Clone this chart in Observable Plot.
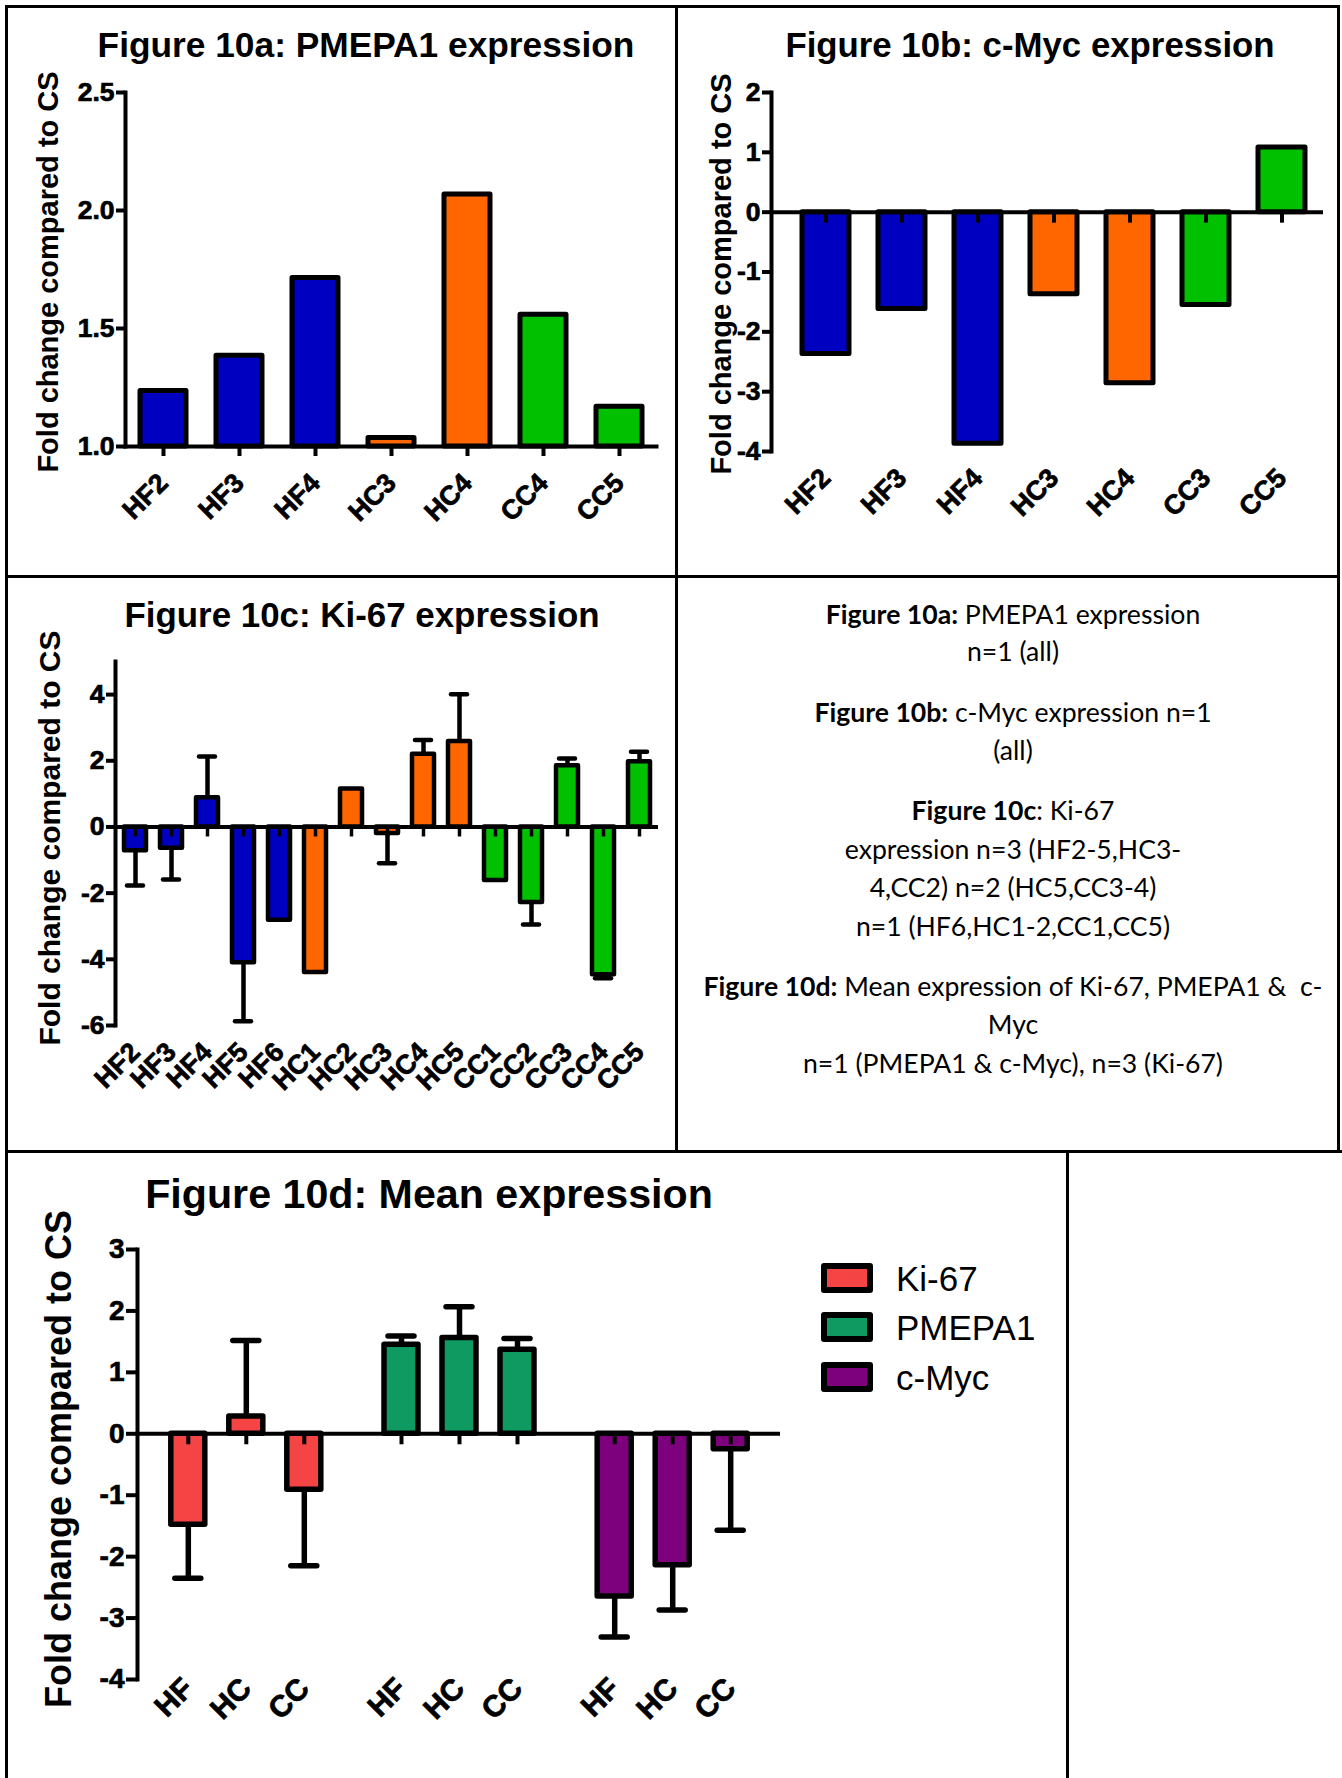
<!DOCTYPE html>
<html><head><meta charset="utf-8">
<script src="https://cdn.jsdelivr.net/npm/d3@7"></script>
<script src="https://cdn.jsdelivr.net/npm/@observablehq/plot@0.6"></script>
<style>
html,body{margin:0;padding:0;background:#fff;overflow:hidden}
#page{position:relative;width:1342px;height:1778px;background:#fff}
#page svg text{font-family:"Liberation Sans",Arial,sans-serif !important;font-weight:bold;stroke:#000;stroke-width:0.7px}
.ln{position:absolute;background:#000}
.title{position:absolute;transform:translate(-50%,-50%);font-family:"Liberation Sans",Arial,sans-serif;font-weight:bold;white-space:nowrap;color:#000;line-height:1}
.ylab{position:absolute;transform:translate(-50%,-50%) rotate(-90deg);font-family:"Liberation Sans",Arial,sans-serif;font-weight:bold;white-space:nowrap;color:#000;line-height:1}
.note{position:absolute;left:1013px;transform:translate(-50%,-50%);font-family:Lato,"Open Sans",sans-serif;font-size:26.6px;white-space:nowrap;color:#000;line-height:1}
.sw{position:absolute;left:821px;width:40px;height:18px;border:6px solid #000;border-radius:3px;transform:translateY(-50%)}
.lg{position:absolute;left:896px;transform:translateY(-50%);font-family:"Liberation Sans",Arial,sans-serif;font-size:35px;color:#000;line-height:1;white-space:nowrap}
</style>
</head><body><div id="page"></div>
<script>
// ---------- data ----------
const groupNames = ["HF", "HC", "CC"];
const groupColors = ["#0000C0", "#FF6600", "#00C000"];

// Figure 10a: PMEPA1
const pmepaSamples = ["HF2", "HF3", "HF4", "HC3", "HC4", "CC4", "CC5"];
const pmepaValues = [1.235, 1.385, 1.714, 1.036, 2.068, 1.558, 1.168];
const pmepaTicks = [1.0, 1.5, 2.0, 2.5];

// Figure 10b: c-Myc
const mycSamples = ["HF2", "HF3", "HF4", "HC3", "HC4", "CC3", "CC5"];
const mycValues = [-2.37, -1.62, -3.87, -1.37, -2.86, -1.55, 1.08];
const mycTicks = [-4, -3, -2, -1, 0, 1, 2];

// Figure 10c: Ki-67
const kiSamples = ["HF2","HF3","HF4","HF5","HF6","HC1","HC2","HC3","HC4","HC5","CC1","CC2","CC3","CC4","CC5"];
const kiValues = [-0.72, -0.64, 0.88, -4.10, -2.82, -4.40, 1.15, -0.20, 2.20, 2.58, -1.62, -2.28, 1.85, -4.47, 1.97];
const kiErrors = [1.05, 0.95, 1.25, 1.77, 0, 0, 0, 0.90, 0.43, 1.43, 0, 0.67, 0.22, 0.10, 0.30];
const kiTicks = [-6, -4, -2, 0, 2, 4];

// Figure 10d: mean expression
const meanGenes = ["Ki-67", "PMEPA1", "c-Myc"];
const meanColors = ["#F44444", "#0E9A60", "#7D007D"];
const meanGroups = ["HF", "HC", "CC"];
const meanKi = [-1.48, 0.28, -0.91];
const meanKiErr = [0.87, 1.24, 1.24];
const meanPmepa = [1.45, 1.56, 1.37];
const meanPmepaErr = [0.14, 0.51, 0.18];
const meanMyc = [-2.65, -2.14, -0.25];
const meanMycErr = [0.66, 0.73, 1.32];
const meanTicks = [-4, -3, -2, -1, 0, 1, 2, 3];

// ---------- helpers ----------
const page = document.getElementById("page");
const W = 1342, H = 1778;
function add(html){ page.insertAdjacentHTML("beforeend", html); }
function place(svg){ svg.style.position="absolute"; svg.style.left="0px"; svg.style.top="0px"; page.appendChild(svg); }
const baseStyle = {background:"transparent", fontFamily:"'Liberation Sans', Arial, sans-serif", fontWeight:"bold", overflow:"visible", color:"#000"};
const groupScale = {domain: groupNames, range: groupColors};
const grp = s => s.slice(0, 2);
const hyphen = d => String(d);

// ---------- Figure 10a ----------
const dataA = pmepaSamples.map((s, i) => ({sample: s, value: pmepaValues[i], group: grp(s)}));
place(Plot.plot({
  width: W, height: H, marginLeft: 125, marginRight: W - 656, marginTop: 92, marginBottom: H - 446,
  style: baseStyle,
  x: {domain: pmepaSamples, paddingInner: 0.395, paddingOuter: 0.184, axis: null},
  y: {domain: [1, 2.5], axis: null},
  color: groupScale,
  marks: [
    Plot.barY(dataA, {x: "sample", y1: 1, y2: "value", fill: "group", stroke: "#000", strokeWidth: 5, strokeLinejoin: "round"}),
    Plot.axisX({tickSize: 10, tickPadding: 22, tickRotate: -45, strokeWidth: 4, fontSize: 27, label: null}),
    Plot.axisY(pmepaTicks, {tickFormat: d3.format(".1f"), tickSize: 9, tickPadding: 2, strokeWidth: 4, fontSize: 26.5, label: null}),
    Plot.frame({anchor: "bottom", strokeWidth: 4}),
    Plot.frame({anchor: "left", strokeWidth: 4})
  ]
}));

// ---------- Figure 10b ----------
const dataB = mycSamples.map((s, i) => ({sample: s, value: mycValues[i], group: grp(s)}));
place(Plot.plot({
  width: W, height: H, marginLeft: 771, marginRight: W - 1323, marginTop: 92, marginBottom: H - 451,
  style: baseStyle,
  x: {domain: mycSamples, paddingInner: 0.388, paddingOuter: 0.289, align: 0.62, axis: null},
  y: {domain: [-4, 2], axis: null},
  color: groupScale,
  marks: [
    Plot.barY(dataB, {x: "sample", y1: 0, y2: "value", fill: "group", stroke: "#000", strokeWidth: 5, strokeLinejoin: "round"}),
    Plot.ruleY([0], {strokeWidth: 4}),
    Plot.ruleX(mycSamples, {x: d => d, y1: 0, y2: 0, insetBottom: -11, strokeWidth: 4}),
    Plot.axisX({tickSize: 0, tickPadding: 22, tickRotate: -45, fontSize: 27, label: null}),
    Plot.axisY(mycTicks, {tickFormat: hyphen, tickSize: 9, tickPadding: 2, strokeWidth: 4, fontSize: 26.5, label: null}),
    Plot.frame({anchor: "left", strokeWidth: 4})
  ]
}));

// ---------- Figure 10c ----------
const dataC = kiSamples.map((s, i) => ({sample: s, value: kiValues[i], err: kiErrors[i], group: grp(s)}));
const errC = dataC.filter(d => d.err > 0);
const endC = d => d.value + Math.sign(d.value) * d.err;
place(Plot.plot({
  width: W, height: H, marginLeft: 115, marginRight: W - 658, marginTop: 661, marginBottom: H - 1025,
  style: baseStyle,
  x: {domain: kiSamples, paddingInner: 0.39, paddingOuter: 0.21, axis: null},
  y: {domain: [-6, 5], axis: null},
  color: groupScale,
  marks: [
    Plot.barY(dataC, {x: "sample", y1: 0, y2: "value", fill: "group", stroke: "#000", strokeWidth: 4.5, strokeLinejoin: "round"}),
    Plot.ruleX(errC, {x: "sample", y1: "value", y2: endC, strokeWidth: 4.5}),
    Plot.tickY(errC, {x: "sample", y: endC, insetLeft: 3, insetRight: 3, strokeWidth: 4.5, strokeLinecap: "round"}),
    Plot.ruleY([0], {strokeWidth: 4}),
    Plot.ruleX(kiSamples, {x: d => d, y1: 0, y2: 0, insetBottom: -10, strokeWidth: 3.5}),
    Plot.axisX({tickSize: 0, tickPadding: 22, tickRotate: -45, fontSize: 27, label: null}),
    Plot.axisY(kiTicks, {tickFormat: hyphen, tickSize: 9, tickPadding: 2, strokeWidth: 4, fontSize: 26.5, label: null}),
    Plot.frame({anchor: "left", strokeWidth: 4})
  ]
}));

// ---------- Figure 10d ----------
const meanValues = [meanKi, meanPmepa, meanMyc];
const meanErrs = [meanKiErr, meanPmepaErr, meanMycErr];
const dataD = meanGenes.flatMap((g, gi) => meanGroups.map((c, ci) => ({
  key: g + "|" + c, gene: g, group: c, value: meanValues[gi][ci], err: meanErrs[gi][ci]
})));
const keysD = dataD.map(d => d.key);
const endD = d => d.value + Math.sign(d.value) * d.err;
const gap = 39.2;
const marksD = [];
meanGenes.forEach((g, gi) => {
  const sub = dataD.filter(d => d.gene === g);
  const dx = (gi - 1) * gap;
  marksD.push(Plot.barY(sub, {x: "key", y1: 0, y2: "value", fill: "gene", stroke: "#000", strokeWidth: 5.5, strokeLinejoin: "round", dx}));
});
meanGenes.forEach((g, gi) => {
  const sub = dataD.filter(d => d.gene === g);
  const dx = (gi - 1) * gap;
  marksD.push(
    Plot.ruleX(sub, {x: "key", y1: "value", y2: endD, strokeWidth: 5.5, dx}),
    Plot.tickY(sub, {x: "key", y: endD, insetLeft: 4, insetRight: 4, strokeWidth: 5.5, strokeLinecap: "round", dx}),
    Plot.ruleX(sub, {x: "key", y1: 0, y2: 0, insetBottom: -11, strokeWidth: 4, dx}),
    Plot.axisX(sub.map(d => d.key), {tickSize: 0, tickPadding: 4, tickRotate: -45, fontSize: 30, label: null, dx, tickFormat: k => k.split("|")[1]})
  );
});
marksD.push(
  Plot.ruleY([0], {strokeWidth: 4}),
  Plot.axisY(meanTicks, {tickFormat: hyphen, tickSize: 11, tickPadding: 2, strokeWidth: 4, fontSize: 28, label: null}),
  Plot.frame({anchor: "left", strokeWidth: 4})
);
place(Plot.plot({
  width: W, height: H, marginLeft: 137, marginRight: W - 780, marginTop: 1249, marginBottom: H - 1679,
  style: baseStyle,
  x: {domain: keysD, paddingInner: 0.418, paddingOuter: 1.214, axis: null},
  y: {domain: [-4, 3], axis: null},
  color: {domain: meanGenes, range: meanColors},
  marks: marksD
}));

// ---------- titles & labels ----------
add('<div class="title" style="left:366px;top:45px;font-size:35.3px">Figure 10a: PMEPA1 expression</div>');
add('<div class="title" style="left:1030px;top:45px;font-size:34.8px">Figure 10b: c-Myc expression</div>');
add('<div class="title" style="left:362px;top:615px;font-size:34.9px">Figure 10c: Ki-67 expression</div>');
add('<div class="title" style="left:429px;top:1195px;font-size:41.2px">Figure 10d: Mean expression</div>');
add('<div class="ylab" style="left:48px;top:272px;font-size:29px">Fold change compared to CS</div>');
add('<div class="ylab" style="left:721px;top:274px;font-size:29px">Fold change compared to CS</div>');
add('<div class="ylab" style="left:50px;top:838px;font-size:30px">Fold change compared to CS</div>');
add('<div class="ylab" style="left:59px;top:1459px;font-size:36px">Fold change compared to CS</div>');

// legend for 10d
const legendY = [1278, 1327, 1377];
meanGenes.forEach((g, i) => {
  add(`<div class="sw" style="top:${legendY[i]}px;background:${meanColors[i]}"></div>`);
  add(`<div class="lg" style="top:${legendY[i]}px">${g}</div>`);
});

// notes panel
const noteLines = [
  [614, '<b>Figure 10a:</b> PMEPA1 expression'],
  [651, 'n=1 (all)'],
  [712, '<b>Figure 10b:</b> c-Myc expression n=1'],
  [750, '(all)'],
  [810, '<b>Figure 10c</b>: Ki-67'],
  [849, 'expression n=3 (HF2-5,HC3-'],
  [887, '4,CC2) n=2 (HC5,CC3-4)'],
  [926, 'n=1 (HF6,HC1-2,CC1,CC5)'],
  [986, '<b>Figure 10d:</b> Mean expression of Ki-67, PMEPA1 &amp;&nbsp; c-'],
  [1024, 'Myc'],
  [1063, 'n=1 (PMEPA1 &amp; c-Myc), n=3 (Ki-67)']
];
noteLines.forEach(([y, t]) => add(`<div class="note" style="top:${y}px">${t}</div>`));

// panel borders
[[5,5,1335,3],[5,5,3,1773],[675,5,3,1148],[1337,5,3,1148],[5,575,1335,3],[5,1150,1337,3],[1066,1150,3,628]]
  .forEach(([l,t,w,h]) => add(`<div class="ln" style="left:${l}px;top:${t}px;width:${w}px;height:${h}px"></div>`));
</script>
</body></html>
